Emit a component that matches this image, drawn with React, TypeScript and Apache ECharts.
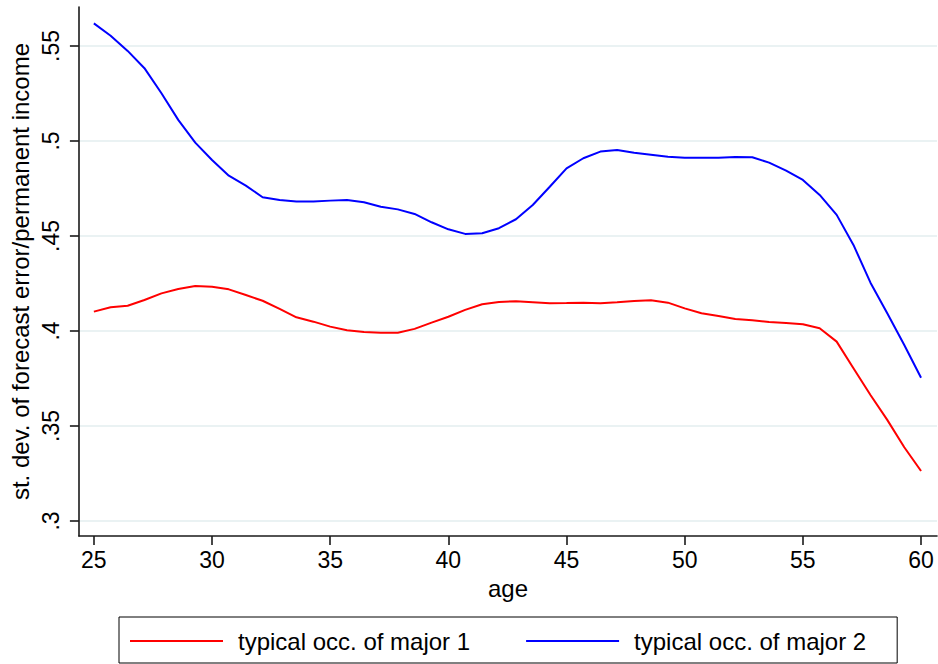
import React, { useEffect, useRef } from "react";
import * as echarts from "echarts";

// Age grid (years) on which both profiles are evaluated
const ages: number[] = [
  25, 25.71, 26.43, 27.14, 27.86, 28.57, 29.29,
  30, 30.71, 31.43, 32.14, 32.86, 33.57, 34.29,
  35, 35.71, 36.43, 37.14, 37.86, 38.57, 39.29,
  40, 40.71, 41.43, 42.14, 42.86, 43.57, 44.29,
  45, 45.71, 46.43, 47.14, 47.86, 48.57, 49.29,
  50, 50.71, 51.43, 52.14, 52.86, 53.57, 54.29,
  55, 55.71, 56.43, 57.14, 57.86, 58.57, 59.29,
  60,
];

// st. dev. of forecast error / permanent income
const major1: number[] = [
  0.4102, 0.4125, 0.4133, 0.4163, 0.4198, 0.4221, 0.4237, 0.4233, 0.4219, 0.4189,
  0.4159, 0.4116, 0.4072, 0.4049, 0.4023, 0.4004, 0.3995, 0.3991, 0.3991, 0.4011,
  0.4044, 0.4075, 0.4111, 0.4141, 0.4153, 0.4156, 0.4151, 0.4146, 0.4147, 0.4149,
  0.4146, 0.4151, 0.4158, 0.4162, 0.4149, 0.4119, 0.4093, 0.4079, 0.4063, 0.4056,
  0.4047, 0.4042, 0.4035, 0.4014, 0.3944, 0.3804, 0.3663, 0.3532, 0.3388, 0.3263,
];

const major2: number[] = [
  0.5619, 0.5554, 0.5474, 0.5383, 0.5251, 0.5111, 0.4991, 0.49, 0.4817, 0.4765,
  0.4704, 0.4689, 0.4681, 0.4681, 0.4686, 0.4689, 0.4677, 0.4654, 0.464, 0.4616,
  0.4572, 0.4535, 0.4511, 0.4514, 0.4541, 0.4588, 0.4663, 0.4759, 0.4856, 0.4909,
  0.4944, 0.4953, 0.4938, 0.4928, 0.4917, 0.4911, 0.4911, 0.4912, 0.4916, 0.4914,
  0.4886, 0.4844, 0.4795, 0.4716, 0.4611, 0.4453, 0.4254, 0.4093, 0.3926, 0.3754,
];

const xTicks: number[] = [25, 30, 35, 40, 45, 50, 55, 60];
const yTicks: number[] = [0.3, 0.35, 0.4, 0.45, 0.5, 0.55];

const seriesNames = ["typical occ. of major 1", "typical occ. of major 2"];

const FONT = "Liberation Sans, Arial, Helvetica, sans-serif";

function stataLabel(v: number): string {
  return v.toFixed(2).replace(/0+$/, "").replace(/^0/, "");
}

export default function App() {
  const ref = useRef<HTMLDivElement>(null);

  useEffect(() => {
    if (!ref.current) return;
    const chart = echarts.init(ref.current, undefined, { renderer: "svg" });

    const axisLineStyle = { color: "#1a1a1a", width: 1.6 };

    chart.setOption({
      animation: false,
      backgroundColor: "#ffffff",
      textStyle: { fontFamily: FONT },
      grid: { left: 76, right: 1, top: 7, bottom: 128, containLabel: false },
      xAxis: {
        type: "value",
        min: 24.367,
        max: 60.675,
        name: "age",
        nameLocation: "middle",
        nameGap: 40,
        nameTextStyle: { fontSize: 24, color: "#000", fontFamily: FONT },
        axisLine: { show: true, onZero: false, lineStyle: axisLineStyle },
        axisTick: { show: true, length: 9, customValues: xTicks, lineStyle: axisLineStyle },
        axisLabel: {
          customValues: xTicks,
          fontSize: 23,
          color: "#000",
          fontFamily: FONT,
          margin: 12,
        },
        splitLine: { show: false },
      },
      yAxis: {
        type: "value",
        min: 0.2921,
        max: 0.5705,
        name: "st. dev. of forecast error/permanent income",
        nameLocation: "middle",
        nameGap: 45,
        nameRotate: 90,
        nameTextStyle: { fontSize: 24, color: "#000", fontFamily: FONT },
        axisLine: { show: true, onZero: false, lineStyle: axisLineStyle },
        axisTick: { show: true, length: 9, customValues: yTicks, lineStyle: axisLineStyle },
        axisLabel: {
          customValues: yTicks,
          rotate: 90,
          fontSize: 23,
          color: "#000",
          fontFamily: FONT,
          margin: 16,
          formatter: (v: number) => stataLabel(v),
        },
        splitLine: { show: true, lineStyle: { color: "#eaf2f3", width: 2 } },
      },
      legend: {
        left: 119,
        top: 617,
        orient: "horizontal",
        icon: "rect",
        itemWidth: 93,
        itemHeight: 2,
        itemGap: 56,
        padding: [12, 31, 10, 11],
        borderColor: "#000",
        borderWidth: 1,
        textStyle: { fontSize: 24, color: "#000", fontFamily: FONT, padding: [0, 0, 0, 10] },
        data: seriesNames,
      },
      series: [
        {
          name: seriesNames[0],
          type: "line",
          symbol: "none",
          color: "#ff0000",
          lineStyle: { color: "#ff0000", width: 2 },
          data: ages.map((a, i) => [a, major1[i]]),
        },
        {
          name: seriesNames[1],
          type: "line",
          symbol: "none",
          color: "#0000ff",
          lineStyle: { color: "#0000ff", width: 2 },
          data: ages.map((a, i) => [a, major2[i]]),
        },
      ],
    });

    return () => chart.dispose();
  }, []);

  return (
    <div
      ref={ref}
      style={{ position: "fixed", left: 0, top: 0, width: 938, height: 664, background: "#fff" }}
    />
  );
}
